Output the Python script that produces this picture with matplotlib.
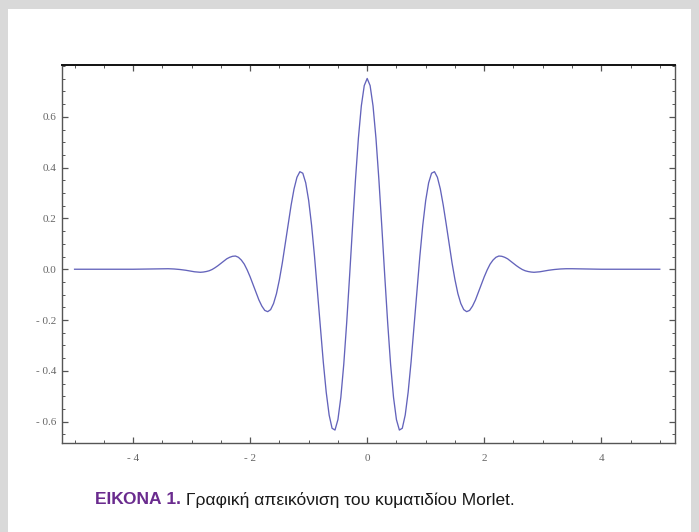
import matplotlib
matplotlib.use("Agg")
import matplotlib.pyplot as plt
from matplotlib.patches import Rectangle
from matplotlib.ticker import MultipleLocator, FixedLocator, FuncFormatter
from matplotlib import font_manager

# values (Morlet wavelet)
x_vals = [-5.0, -4.0, -3.5, -3.4, -3.3, -3.2, -3.1, -3.0,
          -2.95, -2.9, -2.85, -2.8, -2.75, -2.7, -2.65, -2.6, -2.55, -2.5,
          -2.45, -2.4, -2.35, -2.3, -2.25, -2.2, -2.15, -2.1, -2.05, -2.0,
          -1.95, -1.9, -1.85, -1.8, -1.75, -1.7, -1.65, -1.6, -1.55, -1.5,
          -1.45, -1.4, -1.35, -1.3, -1.25, -1.2, -1.15, -1.1, -1.05, -1.0,
          -0.95, -0.9, -0.85, -0.8, -0.75, -0.7, -0.65, -0.6, -0.55, -0.5,
          -0.45, -0.4, -0.35, -0.3, -0.25, -0.2, -0.15, -0.1, -0.05, 0.0,
          0.05, 0.1, 0.15, 0.2, 0.25, 0.3, 0.35, 0.4, 0.45, 0.5,
          0.55, 0.6, 0.65, 0.7, 0.75, 0.8, 0.85, 0.9, 0.95, 1.0,
          1.05, 1.1, 1.15, 1.2, 1.25, 1.3, 1.35, 1.4, 1.45, 1.5,
          1.55, 1.6, 1.65, 1.7, 1.75, 1.8, 1.85, 1.9, 1.95, 2.0,
          2.05, 2.1, 2.15, 2.2, 2.25, 2.3, 2.35, 2.4, 2.45, 2.5,
          2.55, 2.6, 2.65, 2.7, 2.75, 2.8, 2.85, 2.9, 2.95, 3.0,
          3.1, 3.2, 3.3, 3.4, 3.5, 4.0, 5.0]
y_vals = [0.0, 0.0, 0.002, 0.002, 0.001, -0.001, -0.004, -0.008,
          -0.010, -0.011, -0.012, -0.011, -0.009, -0.006, -0.001, 0.006, 0.014, 0.023,
          0.032, 0.041, 0.047, 0.051, 0.052, 0.047, 0.036, 0.020, -0.003, -0.030,
          -0.060, -0.091, -0.121, -0.145, -0.162, -0.167, -0.159, -0.135, -0.096, -0.041,
          0.025, 0.101, 0.178, 0.252, 0.316, 0.362, 0.384, 0.378, 0.340, 0.271,
          0.173, 0.051, -0.086, -0.228, -0.365, -0.484, -0.574, -0.626, -0.633, -0.592,
          -0.504, -0.374, -0.210, -0.025, 0.168, 0.353, 0.516, 0.643, 0.723, 0.751,
          0.723, 0.643, 0.516, 0.353, 0.168, -0.025, -0.210, -0.374, -0.504, -0.592,
          -0.633, -0.626, -0.574, -0.484, -0.365, -0.228, -0.086, 0.051, 0.173, 0.271,
          0.340, 0.378, 0.384, 0.362, 0.316, 0.252, 0.178, 0.101, 0.025, -0.041,
          -0.096, -0.135, -0.159, -0.167, -0.162, -0.145, -0.121, -0.091, -0.060, -0.030,
          -0.003, 0.020, 0.036, 0.047, 0.052, 0.051, 0.047, 0.041, 0.032, 0.023,
          0.014, 0.006, -0.001, -0.006, -0.009, -0.011, -0.012, -0.011, -0.010, -0.008,
          -0.004, -0.001, 0.001, 0.002, 0.002, 0.0, 0.0]

x_ticks = [-4, -2, 0, 2, 4]
y_ticks = [-0.6, -0.4, -0.2, 0.0, 0.2, 0.4, 0.6]

caption_bold = "ΕΙΚΟΝΑ 1."
caption_rest = "Γραφική απεικόνιση του κυματιδίου Morlet."

names = {f.name for f in font_manager.fontManager.ttflist}
cap_font = "Liberation Sans Narrow" if "Liberation Sans Narrow" in names else "Liberation Sans"

fig = plt.figure(figsize=(6.99, 5.32), dpi=100, facecolor="#d9d9d9")
# white card on grey background
fig.patches.append(Rectangle((8 / 699, 0), (691 - 8) / 699, (532 - 9) / 532,
                             transform=fig.transFigure, facecolor="white",
                             edgecolor="none", zorder=-10))

ax = fig.add_axes([61.7 / 699, 1 - 443 / 532, (675 - 61.7) / 699, (443 - 65) / 532])
ax.set_zorder(2)
ax.plot(x_vals, y_vals, color="#6363bb", lw=0.95)
ax.set_xlim(-5.22, 5.26)
ax.set_ylim(-0.684, 0.804)

ax.xaxis.set_major_locator(FixedLocator(x_ticks))
ax.xaxis.set_minor_locator(MultipleLocator(0.5))
ax.yaxis.set_major_locator(FixedLocator(y_ticks))
ax.yaxis.set_minor_locator(MultipleLocator(0.05))

def xfmt(v, pos):
    v = round(v)
    return "- %d" % abs(v) if v < 0 else "%d" % v

def yfmt(v, pos):
    if abs(v) < 1e-9:
        return "0.0"
    return "- %.1f" % abs(v) if v < 0 else "%.1f" % v

ax.xaxis.set_major_formatter(FuncFormatter(xfmt))
ax.yaxis.set_major_formatter(FuncFormatter(yfmt))
ax.tick_params(which="both", direction="in", top=True, right=True,
               color="#555555", labelcolor="#666666", labelsize=8)
ax.tick_params(which="major", length=4, width=0.9)
ax.tick_params(which="minor", length=2, width=0.7)
ax.tick_params(axis="x", pad=8)
ax.tick_params(axis="y", pad=4)
for lab in ax.get_xticklabels() + ax.get_yticklabels():
    lab.set_family("Liberation Serif")
for side in ["left", "right", "bottom"]:
    ax.spines[side].set_color("#555555")
    ax.spines[side].set_linewidth(1.0)
ax.spines["top"].set_color("#111111")
ax.spines["top"].set_linewidth(1.4)

t1 = fig.text(95 / 699, 1 - 500 / 532, caption_bold, color="#6a2b8e",
              fontsize=12.5, fontweight="bold", family=cap_font, va="center")
fig.canvas.draw()
bb = t1.get_window_extent()
fig.text((bb.x1 + 5) / 699, 1 - 500 / 532, caption_rest, color="#1a1a1a",
         fontsize=12.5, family=cap_font, va="center")

fig.savefig("out.png", dpi=100, facecolor=fig.get_facecolor())
